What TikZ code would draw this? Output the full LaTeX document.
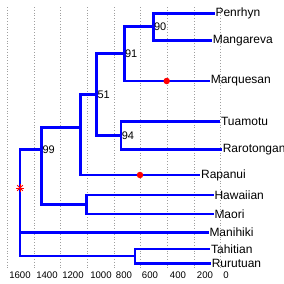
\documentclass[tikz,border=0pt]{standalone}
\usepackage{fontspec}
\setmainfont{Liberation Sans}
\usetikzlibrary{positioning}

\begin{document}
\begin{tikzpicture}[
	x=1pt, y=-1pt,
	every node/.style={inner sep=0.6pt},
	%% Node styles
	leaf/.style={anchor=west, font=\fontsize{12}{13}\selectfont},
	boot/.style={anchor=west, font=\fontsize{11}{12}\selectfont},
	ticklbl/.style={anchor=center, font=\fontsize{9.6}{11}\selectfont},
	event/.style={circle, fill=red, inner sep=0pt, minimum size=6.5pt},
	%% Line styles
	branch/.style={draw=blue, line width=2.6pt, line join=miter},
	gridline/.style={draw=gray!75, line width=0.6pt, dash pattern=on 0.8pt off 2pt},
	rootstar/.style={draw=red, line width=0.8pt},
	]
	
	\useasboundingbox (0,0) rectangle (284,284);
	
	%% -- Grid ---------------------------------------------------------
	\foreach \k in {0,...,8}
	\draw[gridline] ({7.3+26.67*\k},7) -- ({7.3+26.67*\k},270);
	
	%% -- Internal nodes -----------------------------------------------
	\coordinate (root) at (20,188);
	\coordinate (n99)  at (41.7,149.3);
	\coordinate (nx)   at (80.7,127.7);
	\coordinate (n51)  at (96.7,94.3);
	\coordinate (n91)  at (124.3,53.3);
	\coordinate (n90)  at (153.3,26.7);
	\coordinate (n94)  at (121,135.7);
	\coordinate (nhm)  at (86.7,204.3);
	\coordinate (ntr)  at (135,256);
	
	%% -- Leaves -------------------------------------------------------
	\node[leaf] (penrhyn)    at (214.7,13.3)  {Penrhyn};
	\node[leaf] (mangareva)  at (212,40.5)    {Mangareva};
	\node[leaf] (marquesan)  at (210,81)      {Marquesan};
	\node[leaf] (tuamotu)    at (220.3,121.7) {Tuamotu};
	\node[leaf] (rarotongan) at (222,149.3)   {Rarotongan};
	\node[leaf] (rapanui)    at (200.3,175)   {Rapanui};
	\node[leaf] (hawaiian)   at (213.7,195)   {Hawaiian};
	\node[leaf] (maori)      at (213.7,214)   {Maori};
	\node[leaf] (manihiki)   at (208.7,232.3) {Manihiki};
	\node[leaf] (tahitian)   at (210.3,249)   {Tahitian};
	\node[leaf] (rurutuan)   at (211,263.5)   {Rurutuan};
	
	%% -- Branches -----------------------------------------------------
	\draw[branch] (root) |- (n99);
	\draw[branch] (root) |- (manihiki.west);
	\draw[branch] (root) |- (ntr);
	\draw[branch] (n99)  |- (nx);
	\draw[branch] (n99)  |- (nhm);
	\draw[branch] (nx)   |- (n51);
	\draw[branch] (nx)   |- (rapanui.west);
	\draw[branch] (n51)  |- (n91);
	\draw[branch] (n51)  |- (n94);
	\draw[branch] (n91)  |- (n90);
	\draw[branch] (n91)  |- (marquesan.west);
	\draw[branch] (n90)  |- (penrhyn.west);
	\draw[branch] (n90)  |- (mangareva.west);
	\draw[branch] (n94)  |- (tuamotu.west);
	\draw[branch] (n94)  |- (rarotongan.west);
	\draw[branch] (nhm)  |- (hawaiian.west);
	\draw[branch] (nhm)  |- (maori.west);
	\draw[branch] (ntr)  |- (tahitian.west);
	\draw[branch] (ntr)  |- (rurutuan.west);
	
	%% -- Events on branches -------------------------------------------
	\node[event] (dotmarq) at (166.7,81) {};
	\node[event] (dotrapa) at (140,175)  {};
	
	%% Root marker (asterisk)
	\foreach \a in {0,45,90,135}
	\draw[rootstar] (root) ++(\a:4) -- ++(\a+180:8);
	
	%% -- Support values -----------------------------------------------
	\node[boot] (b99) at (n99) {99};
	\node[boot] (b51) at (n51) {51};
	\node[boot] (b91) at (n91) {91};
	\node[boot] (b94) at (n94) {94};
	\node[boot] (b90) at (n90) {90};
	
	%% -- Axis tick labels ---------------------------------------------
	\foreach \v/\xx in {1600/20,1400/47,1200/73,1000/101,800/124,600/150,400/178,200/205,0/226}
	\node[ticklbl] (tick\v) at (\xx,275) {\v};
	
\end{tikzpicture}
\end{document}
